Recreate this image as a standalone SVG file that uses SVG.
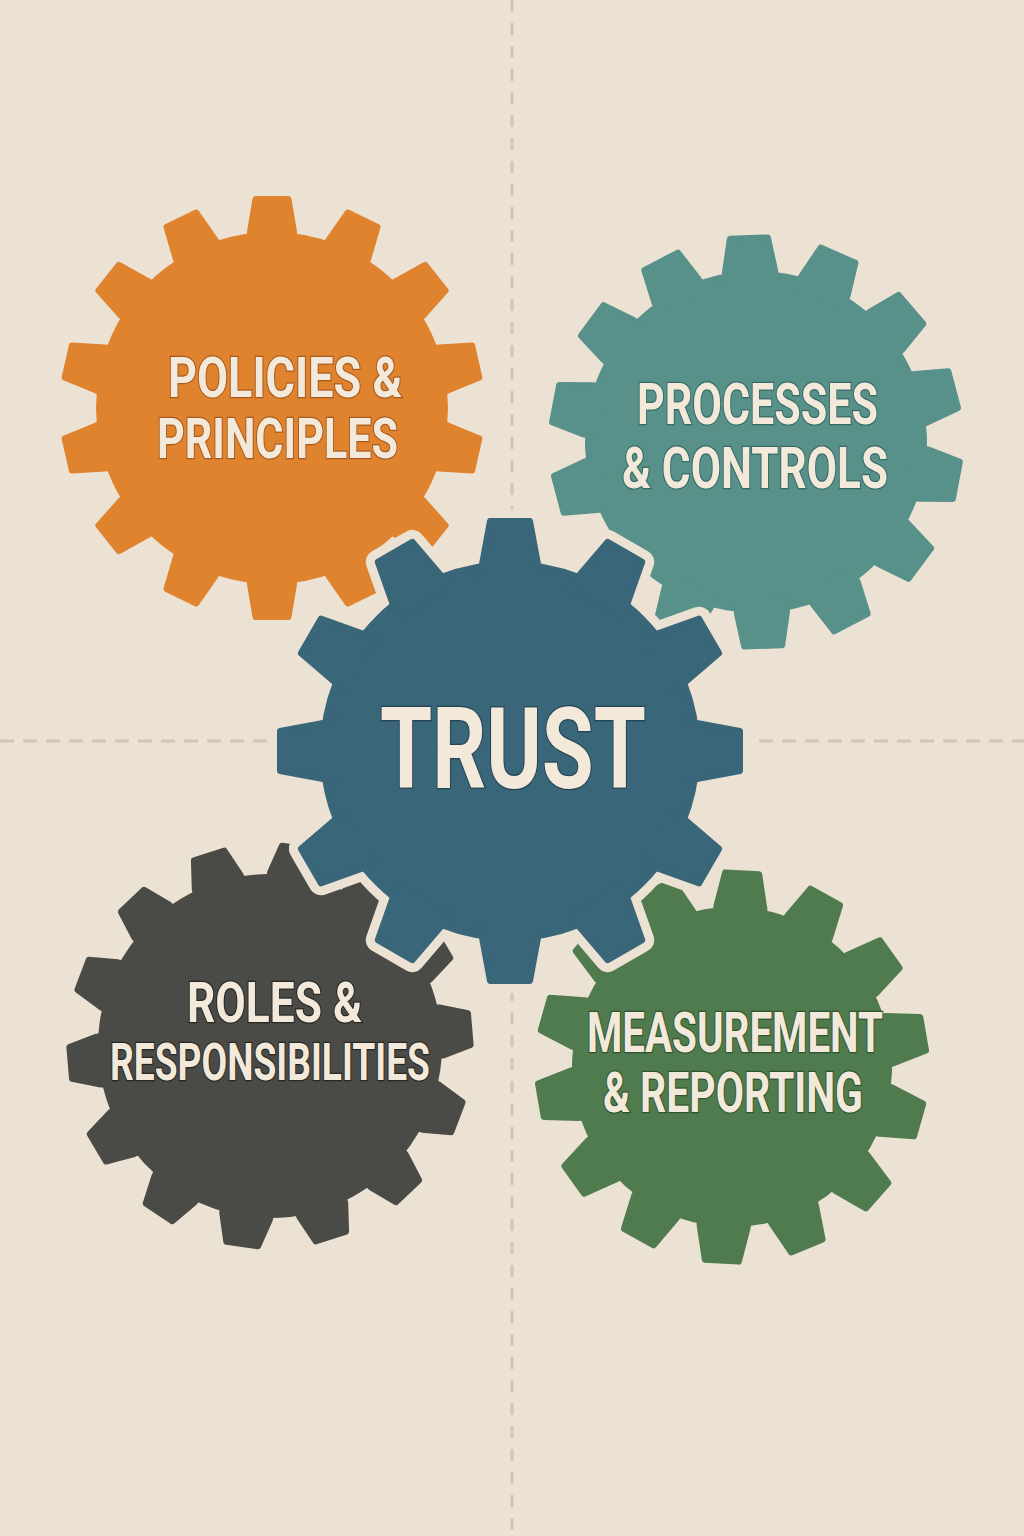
<svg xmlns="http://www.w3.org/2000/svg" width="1024" height="1536" viewBox="0 0 1024 1536">
<style>
.bg{fill:#ece2d3}
.guide{stroke:#cfc6b6;stroke-width:3;fill:none}
.g-or{fill:#e0832f;stroke:#e0832f;stroke-width:6;stroke-linejoin:round}
.g-te{fill:#57918a;stroke:#57918a;stroke-width:6;stroke-linejoin:round}
.g-bl{fill:#3a6679;stroke:#3a6679;stroke-width:6;stroke-linejoin:round}
.g-dk{fill:#4a4a46;stroke:#4a4a46;stroke-width:6;stroke-linejoin:round}
.g-gr{fill:#4f7b4f;stroke:#4f7b4f;stroke-width:6;stroke-linejoin:round}
.halo{fill:#ece2d3;stroke:#ece2d3;stroke-width:24;stroke-linejoin:round}
.lbl{font-family:Roboto,"Liberation Sans",sans-serif;font-weight:700;fill:#f2e9da;stroke-width:2.5;paint-order:stroke fill}
</style>
<defs>
<polygon id="t-or" points="-23,-160 -22,-176 -16.5,-209 16.5,-209 22,-176 23,-160"/>
<polygon id="t-te" points="-26,-155 -25,-171 -19,-204 19,-204 25,-171 26,-155"/>
<polygon id="t-bl" points="-29,-170 -28,-187 -20,-230 20,-230 28,-187 29,-170"/>
<polygon id="t-dk" points="-25,-155 -24,-172 -16,-200 16,-200 24,-172 25,-155"/>
<polygon id="t-gr" points="-25,-143 -24,-160 -17,-194 17,-194 24,-160 25,-143"/>
</defs>
<rect class="bg" x="0" y="0" width="1024" height="1536"/>
<g id="guides">
<line class="guide" x1="512" y1="0" x2="512" y2="1536" stroke-dasharray="12 11"/>
<line class="guide" x1="0" y1="741" x2="1024" y2="741" stroke-dasharray="14 9"/>
</g>
<g id="gear-policies">
<g class="g-or" transform="translate(272,408)">
<circle r="173"/>
<use href="#t-or"/><use href="#t-or" transform="rotate(25.714)"/><use href="#t-or" transform="rotate(51.429)"/><use href="#t-or" transform="rotate(77.143)"/><use href="#t-or" transform="rotate(102.857)"/><use href="#t-or" transform="rotate(128.571)"/><use href="#t-or" transform="rotate(154.286)"/><use href="#t-or" transform="rotate(180)"/><use href="#t-or" transform="rotate(205.714)"/><use href="#t-or" transform="rotate(231.429)"/><use href="#t-or" transform="rotate(257.143)"/><use href="#t-or" transform="rotate(282.857)"/><use href="#t-or" transform="rotate(308.571)"/><use href="#t-or" transform="rotate(334.286)"/>
</g>
<text class="lbl" stroke="#a85a1c" x="168" y="397" font-size="56" textLength="234" lengthAdjust="spacingAndGlyphs">POLICIES &amp;</text>
<text class="lbl" stroke="#a85a1c" x="157" y="458" font-size="56" textLength="241" lengthAdjust="spacingAndGlyphs">PRINCIPLES</text>
</g>
<g id="gear-processes">
<g class="g-te" transform="translate(756,442) rotate(-2)">
<circle r="168"/>
<use href="#t-te"/><use href="#t-te" transform="rotate(25.714)"/><use href="#t-te" transform="rotate(51.429)"/><use href="#t-te" transform="rotate(77.143)"/><use href="#t-te" transform="rotate(102.857)"/><use href="#t-te" transform="rotate(128.571)"/><use href="#t-te" transform="rotate(154.286)"/><use href="#t-te" transform="rotate(180)"/><use href="#t-te" transform="rotate(205.714)"/><use href="#t-te" transform="rotate(231.429)"/><use href="#t-te" transform="rotate(257.143)"/><use href="#t-te" transform="rotate(282.857)"/><use href="#t-te" transform="rotate(308.571)"/><use href="#t-te" transform="rotate(334.286)"/>
</g>
<text class="lbl" stroke="#356a62" x="637" y="424" font-size="57" textLength="241" lengthAdjust="spacingAndGlyphs">PROCESSES</text>
<text class="lbl" stroke="#356a62" x="622" y="488" font-size="57" textLength="266" lengthAdjust="spacingAndGlyphs">&amp; CONTROLS</text>
</g>
<g id="gear-roles">
<g class="g-dk" transform="translate(270,1046) rotate(8)">
<circle r="169"/>
<use href="#t-dk"/><use href="#t-dk" transform="rotate(25.714)"/><use href="#t-dk" transform="rotate(51.429)"/><use href="#t-dk" transform="rotate(77.143)"/><use href="#t-dk" transform="rotate(102.857)"/><use href="#t-dk" transform="rotate(128.571)"/><use href="#t-dk" transform="rotate(154.286)"/><use href="#t-dk" transform="rotate(180)"/><use href="#t-dk" transform="rotate(205.714)"/><use href="#t-dk" transform="rotate(231.429)"/><use href="#t-dk" transform="rotate(257.143)"/><use href="#t-dk" transform="rotate(282.857)"/><use href="#t-dk" transform="rotate(308.571)"/><use href="#t-dk" transform="rotate(334.286)"/>
</g>
<text class="lbl" stroke="#262624" x="187" y="1022" font-size="56" textLength="175" lengthAdjust="spacingAndGlyphs">ROLES &amp;</text>
<text class="lbl" stroke="#262624" x="110" y="1080" font-size="52" textLength="320" lengthAdjust="spacingAndGlyphs">RESPONSIBILITIES</text>
</g>
<g id="gear-measurement">
<g class="g-gr" transform="translate(732,1067) rotate(3)">
<circle r="157"/>
<use href="#t-gr"/><use href="#t-gr" transform="rotate(25.714)"/><use href="#t-gr" transform="rotate(51.429)"/><use href="#t-gr" transform="rotate(77.143)"/><use href="#t-gr" transform="rotate(102.857)"/><use href="#t-gr" transform="rotate(128.571)"/><use href="#t-gr" transform="rotate(154.286)"/><use href="#t-gr" transform="rotate(180)"/><use href="#t-gr" transform="rotate(205.714)"/><use href="#t-gr" transform="rotate(231.429)"/><use href="#t-gr" transform="rotate(257.143)"/><use href="#t-gr" transform="rotate(282.857)"/><use href="#t-gr" transform="rotate(308.571)"/><use href="#t-gr" transform="rotate(334.286)"/>
</g>
<text class="lbl" stroke="#2f532f" x="587" y="1052" font-size="56" textLength="296" lengthAdjust="spacingAndGlyphs">MEASUREMENT</text>
<text class="lbl" stroke="#2f532f" x="603" y="1112" font-size="56" textLength="260" lengthAdjust="spacingAndGlyphs">&amp; REPORTING</text>
</g>
<g id="gear-trust">
<g class="halo" transform="translate(510,751)">
<circle r="187"/>
<use href="#t-bl"/><use href="#t-bl" transform="rotate(30)"/><use href="#t-bl" transform="rotate(60)"/><use href="#t-bl" transform="rotate(90)"/><use href="#t-bl" transform="rotate(120)"/><use href="#t-bl" transform="rotate(150)"/><use href="#t-bl" transform="rotate(180)"/><use href="#t-bl" transform="rotate(210)"/><use href="#t-bl" transform="rotate(240)"/><use href="#t-bl" transform="rotate(270)"/><use href="#t-bl" transform="rotate(300)"/><use href="#t-bl" transform="rotate(330)"/>
</g>
<g class="g-bl" transform="translate(510,751)">
<circle r="187"/>
<use href="#t-bl"/><use href="#t-bl" transform="rotate(30)"/><use href="#t-bl" transform="rotate(60)"/><use href="#t-bl" transform="rotate(90)"/><use href="#t-bl" transform="rotate(120)"/><use href="#t-bl" transform="rotate(150)"/><use href="#t-bl" transform="rotate(180)"/><use href="#t-bl" transform="rotate(210)"/><use href="#t-bl" transform="rotate(240)"/><use href="#t-bl" transform="rotate(270)"/><use href="#t-bl" transform="rotate(300)"/><use href="#t-bl" transform="rotate(330)"/>
</g>
<text class="lbl" stroke="#234452" x="380" y="788" font-size="114" textLength="266" lengthAdjust="spacingAndGlyphs">TRUST</text>
</g>
</svg>
